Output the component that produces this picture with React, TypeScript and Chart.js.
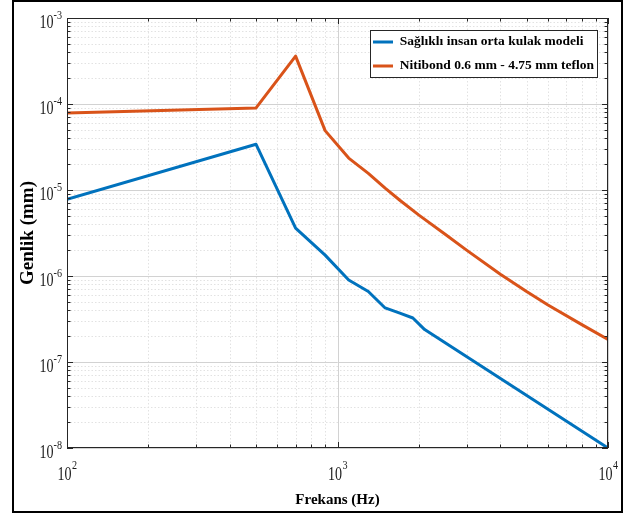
import React, { useEffect, useRef } from 'react';
import { Chart, registerables } from 'chart.js';

Chart.register(...registerables);

const FONT = '"Liberation Serif", "Times New Roman", serif';

// ---- data ----
const seriesNames = ['Sağlıklı insan orta kulak modeli', 'Nitibond 0.6 mm - 4.75 mm teflon'];
const seriesColors = ['#0072BD', '#D95319'];

const healthyFreq = [100, 500, 700, 900, 1100, 1300, 1500, 1700, 1900, 2100, 10000];
const healthyAmp = [7.8e-6, 3.4e-5, 3.6e-6, 1.75e-6, 9.0e-7, 6.6e-7, 4.25e-7, 3.7e-7, 3.25e-7, 2.38e-7, 1.0e-8];

const nitibondFreq = [100, 500, 700, 900, 1100, 1300, 1500, 1700, 2000, 2500, 3000, 4000, 5000, 6000, 8000, 10000];
const nitibondAmp = [7.85e-5, 9.0e-5, 3.6e-4, 4.9e-5, 2.35e-5, 1.56e-5, 1.05e-5, 7.6e-6, 5.1e-6, 3.06e-6, 2.0e-6, 1.05e-6, 6.6e-7, 4.6e-7, 2.72e-7, 1.83e-7];

const xTickExponents = [2, 3, 4];
const yTickExponents = [-8, -7, -6, -5, -4, -3];
const minorMultipliers = [2, 3, 4, 5, 6, 7, 8, 9];

const xAxisTitle = 'Frekans (Hz)';
const yAxisTitle = 'Genlik (mm)';

// ---- helpers ----
const SX = 0.78;
function scaledText(ctx: CanvasRenderingContext2D, text: string, x: number, y: number, size: number) {
  ctx.save();
  ctx.font = `${size}px ${FONT}`;
  ctx.textAlign = 'left';
  ctx.textBaseline = 'alphabetic';
  ctx.translate(x, y);
  ctx.scale(SX, 1);
  ctx.fillText(text, 0, 0);
  ctx.restore();
}
function scaledWidth(ctx: CanvasRenderingContext2D, text: string, size: number) {
  ctx.save();
  ctx.font = `${size}px ${FONT}`;
  const w = ctx.measureText(text).width * SX;
  ctx.restore();
  return w;
}

function allValues(exps: number[]) {
  const major: number[] = [];
  const minor: number[] = [];
  for (let i = 0; i < exps.length; i++) {
    major.push(Math.pow(10, exps[i]));
    if (i < exps.length - 1) {
      for (const m of minorMultipliers) minor.push(m * Math.pow(10, exps[i]));
    }
  }
  return { major, minor };
}

const LEG_FONT = 13.5;
const LEG_PAD = 10.5;
const LEG_BOXW = 20;

const matlabPlugin = {
  id: 'matlabLook',
  afterLayout(chart: any) {
    const lg = chart.legend;
    if (!lg) return;
    const ca = chart.chartArea;
    const ctx = chart.ctx;
    ctx.save();
    ctx.font = `bold ${LEG_FONT}px ${FONT}`;
    const tw = Math.max(...seriesNames.map((s) => ctx.measureText(s).width));
    ctx.restore();
    const boxRight = ca.right - 11;
    const boxW = 3 + LEG_BOXW + LEG_FONT / 2 + tw + 3;
    const boxLeft = boxRight - boxW;
    const boxTop = ca.top + 12;
    const boxH = 47;
    lg.left = boxLeft + 3 - LEG_PAD;
    lg.top = boxTop + 12 - LEG_FONT / 2 - LEG_PAD;
    lg.right = lg.left + lg.width;
    lg.bottom = lg.top + lg.height;
    chart.$lgBox = { boxLeft, boxTop, boxW, boxH };
  },
  beforeDraw(chart: any) {
    const { ctx, chartArea: ca, scales } = chart;
    const xs = scales.x;
    const ys = scales.y;
    const xv = allValues(xTickExponents);
    const yv = allValues(yTickExponents);
    ctx.save();
    ctx.fillStyle = '#ffffff';
    ctx.fillRect(0, 0, chart.width, chart.height);
    ctx.lineWidth = 1;
    // minor grid
    ctx.strokeStyle = '#e2e2e2';
    ctx.setLineDash([1.5, 2]);
    for (const v of xv.minor) {
      const p = Math.round(xs.getPixelForValue(v)) + 0.5;
      ctx.beginPath(); ctx.moveTo(p, ca.top); ctx.lineTo(p, ca.bottom); ctx.stroke();
    }
    for (const v of yv.minor) {
      const p = Math.round(ys.getPixelForValue(v)) + 0.5;
      ctx.beginPath(); ctx.moveTo(ca.left, p); ctx.lineTo(ca.right, p); ctx.stroke();
    }
    // major grid
    ctx.setLineDash([]);
    ctx.strokeStyle = '#d2d2d2';
    for (const v of xv.major) {
      const p = Math.round(xs.getPixelForValue(v)) + 0.5;
      ctx.beginPath(); ctx.moveTo(p, ca.top); ctx.lineTo(p, ca.bottom); ctx.stroke();
    }
    for (const v of yv.major) {
      const p = Math.round(ys.getPixelForValue(v)) + 0.5;
      ctx.beginPath(); ctx.moveTo(ca.left, p); ctx.lineTo(ca.right, p); ctx.stroke();
    }
    // legend box
    const b = chart.$lgBox;
    if (b) {
      ctx.fillStyle = '#ffffff';
      ctx.fillRect(b.boxLeft, b.boxTop, b.boxW, b.boxH);
      ctx.strokeStyle = '#262626';
      ctx.lineWidth = 1;
      ctx.strokeRect(Math.round(b.boxLeft) + 0.5, Math.round(b.boxTop) + 0.5, Math.round(b.boxW), Math.round(b.boxH));
    }
    ctx.restore();
  },
  afterDraw(chart: any) {
    const { ctx, chartArea: ca, scales } = chart;
    const xs = scales.x;
    const ys = scales.y;
    const xv = allValues(xTickExponents);
    const yv = allValues(yTickExponents);
    ctx.save();
    ctx.strokeStyle = '#262626';
    ctx.lineWidth = 1;
    // axes box
    ctx.strokeRect(ca.left + 0.5, ca.top + 0.5, ca.right - ca.left - 1, ca.bottom - ca.top - 1);
    // ticks
    const tick = (vals: number[], len: number) => {
      for (const v of vals) {
        const p = Math.round(xs.getPixelForValue(v)) + 0.5;
        ctx.beginPath(); ctx.moveTo(p, ca.bottom); ctx.lineTo(p, ca.bottom - len); ctx.stroke();
        ctx.beginPath(); ctx.moveTo(p, ca.top); ctx.lineTo(p, ca.top + len); ctx.stroke();
      }
    };
    const ytick = (vals: number[], len: number) => {
      for (const v of vals) {
        const p = Math.round(ys.getPixelForValue(v)) + 0.5;
        ctx.beginPath(); ctx.moveTo(ca.left, p); ctx.lineTo(ca.left + len, p); ctx.stroke();
        ctx.beginPath(); ctx.moveTo(ca.right, p); ctx.lineTo(ca.right - len, p); ctx.stroke();
      }
    };
    tick(xv.minor, 3.5); tick(xv.major, 6);
    ytick(yv.minor, 3.5); ytick(yv.major, 6);
    // tick labels
    ctx.fillStyle = '#1a1a1a';
    for (const e of yTickExponents) {
      const py = ys.getPixelForValue(Math.pow(10, e));
      const es = String(e);
      const w10 = scaledWidth(ctx, '10', 18);
      const we = scaledWidth(ctx, es, 13);
      const xe = ca.left - 5 - we;
      scaledText(ctx, '10', xe - w10, py + 10, 18);
      scaledText(ctx, es, xe, py + 1, 13);
    }
    for (const e of xTickExponents) {
      const px = xs.getPixelForValue(Math.pow(10, e));
      const es = String(e);
      const w10 = scaledWidth(ctx, '10', 18);
      const we = scaledWidth(ctx, es, 13);
      const x0 = px - (w10 + we) / 2;
      scaledText(ctx, '10', x0, ca.bottom + 32, 18);
      scaledText(ctx, es, x0 + w10 + 0.5, ca.bottom + 21, 13);
    }
    // outer frame
    ctx.strokeStyle = '#000000';
    ctx.lineWidth = 2;
    ctx.strokeRect(13, 1, 609, 511);
    ctx.restore();
  },
};

export default function App() {
  const ref = useRef<HTMLCanvasElement | null>(null);

  useEffect(() => {
    if (!ref.current) return;
    const toPts = (xs: number[], ys: number[]) => xs.map((x, i) => ({ x, y: ys[i] }));
    const chart = new Chart(ref.current, {
      type: 'line',
      data: {
        datasets: [
          {
            label: seriesNames[0],
            data: toPts(healthyFreq, healthyAmp),
            borderColor: seriesColors[0],
            backgroundColor: seriesColors[0],
            borderWidth: 3,
            pointRadius: 0,
            tension: 0,
            borderJoinStyle: 'round',
            borderCapStyle: 'round',
          },
          {
            label: seriesNames[1],
            data: toPts(nitibondFreq, nitibondAmp),
            borderColor: seriesColors[1],
            backgroundColor: seriesColors[1],
            borderWidth: 3,
            pointRadius: 0,
            tension: 0,
            borderJoinStyle: 'round',
            borderCapStyle: 'round',
          },
        ],
      },
      options: {
        animation: false,
        responsive: false,
        events: [],
        layout: { padding: { left: 14, top: 18, right: 19, bottom: 4 } },
        scales: {
          x: {
            type: 'logarithmic',
            min: 100,
            max: 10000,
            grid: { display: false },
            border: { display: false },
            ticks: { display: false },
            title: {
              display: true,
              text: xAxisTitle,
              color: '#000',
              font: { family: FONT, size: 15, weight: 'bold' },
              padding: { top: 0, bottom: 2 },
            },
            afterFit: (s: any) => { s.height = 63; },
          },
          y: {
            type: 'logarithmic',
            min: 1e-8,
            max: 1e-3,
            grid: { display: false },
            border: { display: false },
            ticks: { display: false },
            title: {
              display: true,
              text: yAxisTitle,
              color: '#000',
              font: { family: FONT, size: 19, weight: 'bold' },
              padding: { top: 3, bottom: 0 },
            },
            afterFit: (s: any) => { s.width = 53; },
          },
        },
        plugins: {
          tooltip: { enabled: false },
          legend: {
            position: 'chartArea' as any,
            align: 'start',
            labels: {
              color: '#000',
              font: { family: FONT, size: LEG_FONT, weight: 'bold' },
              boxWidth: LEG_BOXW,
              boxHeight: 3,
              padding: LEG_PAD,
              generateLabels: (c: any) =>
                (Chart.defaults.plugins.legend.labels.generateLabels as any)(c).map((l: any) => ({
                  ...l,
                  fillStyle: l.strokeStyle,
                  lineWidth: 0,
                })),
            },
          },
        },
      } as any,
      plugins: [matlabPlugin],
    });
    return () => chart.destroy();
  }, []);

  return (
    <div style={{ position: 'absolute', left: 0, top: 0, width: 627, height: 515, background: '#fff' }}>
      <canvas ref={ref} width={627} height={515} style={{ display: 'block', width: 627, height: 515 }} />
    </div>
  );
}
